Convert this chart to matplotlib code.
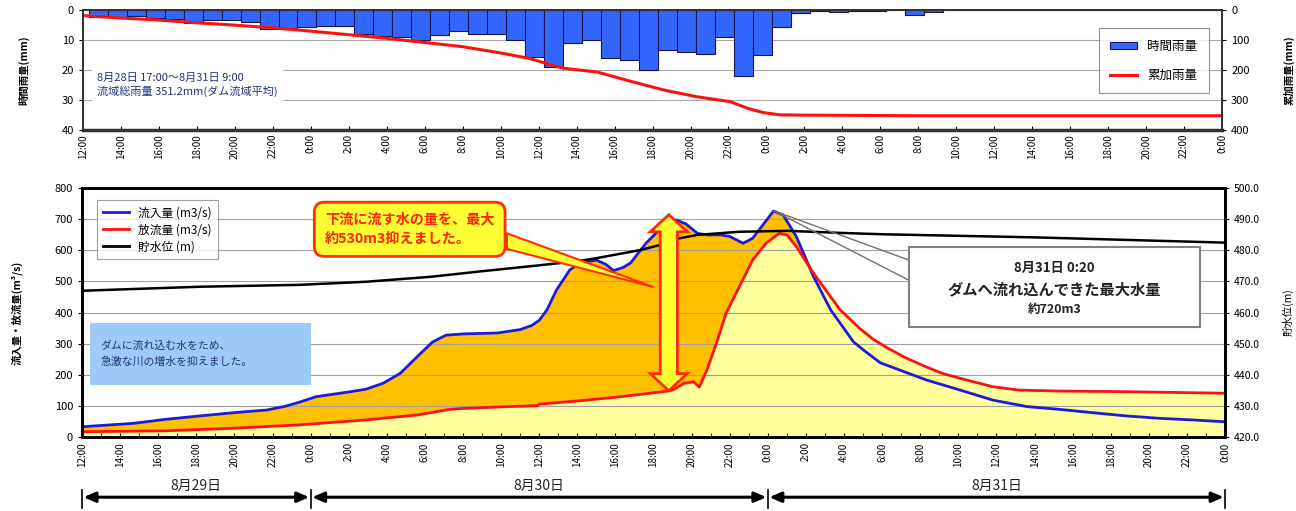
import numpy as np
import matplotlib
matplotlib.use("Agg")
import matplotlib.pyplot as plt
from matplotlib import patches, transforms
from matplotlib.lines import Line2D

plt.rcParams["font.family"] = ["Noto Sans CJK JP", "DejaVu Sans"]

# ---------------------------------------------------------------- data
# time axis: hours after 8/29 12:00 (0 .. 60 = 9/1 0:00)
RAIN_MM = [2.2, 2.2, 2.0, 2.5, 3.0, 4.4, 3.3, 3.3, 3.9, 6.3,
           6.0, 5.6, 5.2, 5.2, 8.1, 8.7, 9.1, 10.0, 8.3, 6.8,
           8.1, 8.1, 9.8, 15.6, 18.9, 11.1, 10.0, 16.0, 16.5, 20.1,
           13.3, 13.9, 14.7, 8.9, 22.0, 14.9, 5.7, 0.9, 0.3, 0.5,
           0.2, 0.3, 0.0, 1.7, 0.5, 0, 0, 0, 0, 0,
           0, 0, 0, 0, 0, 0, 0, 0, 0, 0]

CUM_HOURS = [0, 2, 4, 6, 8, 10, 12, 14, 16, 18, 20, 22, 23.5, 24.4, 25.3,
             27.1, 28.8, 30.6, 32.3, 34.1, 35.0, 35.8, 36.7, 38, 44, 60]
CUM_MM = [18, 26, 33, 42, 50, 59, 70, 82, 94, 108, 122, 143, 161, 178, 194,
          207, 237, 267, 289, 306, 328, 342, 350, 351, 353, 353]

IN_HOURS = [0, 2.7, 4.4, 6.2, 7.9, 9.7, 10.6, 11.4, 12.3, 13.2, 14.1, 14.9,
            15.8, 16.7, 17.6, 18.4, 19.1, 20.0, 21.8, 23.0, 23.6, 24.0, 24.4,
            24.9, 25.6, 26.1, 27.0, 27.5, 27.9, 28.4, 28.8, 29.6, 30.2, 30.7,
            31.2, 31.7, 32.3, 32.8, 33.5, 34.0, 34.7, 35.2, 35.8, 36.3, 36.8,
            37.5, 38.4, 39.3, 40.5, 41.0, 41.9, 42.6, 44.3, 46.1, 47.8, 49.6,
            51.3, 53.1, 54.8, 56.6, 58.3, 60.0]
IN_FLOW = [32, 43, 56, 67, 77, 86, 97, 111, 129, 137, 145, 153,
           172, 204, 258, 305, 327, 331, 334, 345, 358, 375, 408,
           472, 537, 558, 569, 555, 535, 545, 560, 623, 660, 690,
           698, 685, 655, 650, 650, 645, 623, 639, 687, 727, 714,
           644, 515, 408, 305, 280, 238, 222, 183, 150, 118, 97,
           88, 77, 67, 59, 54, 48]

OUT_HOURS = [0, 4.4, 7.9, 11.4, 14.9, 17.6, 19.3, 20.0, 22.0, 23.9, 24.0,
             26.0, 28.0, 30.5, 31.0, 31.6, 32.1, 32.4, 32.8, 33.3, 33.8,
             34.5, 35.2, 35.9, 36.6, 37.0, 37.5, 38.4, 39.8, 40.8, 41.5,
             42.3, 43.2, 44.3, 45.2, 46.1, 47.8, 49.2, 51.3, 54.8, 60.0]
OUT_FLOW = [16, 19, 27, 38, 54, 70, 88, 91, 96, 100, 105,
            115, 127, 145, 150, 172, 177, 160, 215, 301, 397,
            483, 569, 623, 655, 650, 612, 526, 408, 350, 315,
            285, 255, 225, 203, 188, 161, 150, 147, 145, 140]

LVL_HOURS = [0, 6.2, 11.4, 14.9, 18.3, 21, 24, 26.1, 27, 29.3, 30.5, 31,
             32.3, 34.5, 37, 40, 42, 50, 60]
LVL_M = [467.0, 468.3, 468.9, 469.9, 471.5, 473.3, 475.2, 476.6, 477.5,
         480.1, 482.0, 483.5, 485.0, 486.0, 486.3, 485.6, 485.2, 484.2, 482.5]

TICK_HOURS = list(range(0, 61, 2))
TICK_LABELS = [f"{(12 + h) % 24}:00" for h in TICK_HOURS]
DAY_EDGES = [0, 12, 36, 60]
DAY_LABELS = ["8月29日", "8月30日", "8月31日"]

PEAK_HOUR, PEAK_FLOW = 36.33, 727      # 8/31 0:20
ARROW_HOUR, ARROW_TOP = 30.8, 715      # ~530 m3/s held back

BLUE, RED = "#1c1cd8", "#ff1010"
ORANGE, LIGHT_YELLOW = "#ffc000", "#ffff9c"
NAVY = "#1f3275"

# ---------------------------------------------------------------- figure
fig = plt.figure(figsize=(12.96, 5.11), dpi=100)

# --- hourly / cumulative rainfall
ax_r = fig.add_axes([0.064, 0.746, 0.879, 0.234])
ax_c = ax_r.twinx()
hrs = np.arange(len(RAIN_MM))
ax_r.bar(hrs + 0.3, RAIN_MM, width=1.0, align="edge", color="#3366ff",
         edgecolor="#141450", lw=0.8, label="時間雨量")
ax_r.set_ylim(40, 0)
ax_r.set_yticks(range(0, 41, 10))
ax_r.set_axisbelow(True)
ax_r.yaxis.grid(True, color="#a8a8a8", lw=0.8)
ax_c.plot(CUM_HOURS, CUM_MM, color=RED, lw=2.2, label="累加雨量")
ax_c.set_ylim(400, 0)
ax_c.set_yticks(range(0, 401, 100))
ax_r.set_xlim(0, 60)
ax_r.set_xticks(TICK_HOURS)
ax_r.set_xticklabels(TICK_LABELS, rotation=90, fontsize=7)
ax_r.tick_params(axis="x", direction="in", length=3, pad=3)
ax_r.tick_params(axis="y", labelsize=8, length=3)
ax_c.tick_params(axis="y", labelsize=8, length=3)
for ax in (ax_r, ax_c):
    for s in ax.spines.values():
        s.set_color("#333333")
        s.set_linewidth(1.3)
ax_r.spines["bottom"].set_linewidth(2.5)
ax_r.set_ylabel("時間雨量(mm)", fontsize=7.5, fontweight="bold")
ax_r.yaxis.set_label_coords(-0.047, 0.5)
ax_c.set_ylabel("累加雨量(mm)", fontsize=7.5, fontweight="bold", rotation=90)
ax_c.yaxis.set_label_coords(1.054, 0.5)

ax_r.text(0.75, 25.0, "8月28日 17:00～8月31日 9:00\n流域総雨量 351.2mm(ダム流域平均)",
          fontsize=8, color=NAVY, va="center", ha="left", linespacing=1.35,
          bbox=dict(facecolor="white", edgecolor="none", pad=4))

h_r, l_r = ax_r.get_legend_handles_labels()
h_c, l_c = ax_c.get_legend_handles_labels()
leg = ax_c.legend(h_r + h_c, l_r + l_c, loc="upper left",
                  bbox_to_anchor=(0.886, 0.9), fontsize=9, frameon=True,
                  fancybox=False, edgecolor="#777777", labelspacing=1.3,
                  handlelength=2.2, handleheight=0.5, borderpad=0.9)
leg.get_frame().set_linewidth(0.8)

# --- inflow / outflow / reservoir level
ax_f = fig.add_axes([0.0633, 0.1454, 0.882, 0.4861])
ax_l = ax_f.twinx()

grid_h = np.union1d(IN_HOURS, OUT_HOURS)
inflow = np.interp(grid_h, IN_HOURS, IN_FLOW)
outflow = np.interp(grid_h, OUT_HOURS, OUT_FLOW)
ax_f.fill_between(grid_h, 0, np.maximum(inflow, outflow), color=LIGHT_YELLOW,
                  lw=0, zorder=0.8)
ax_f.fill_between(grid_h, outflow, inflow, where=inflow > outflow,
                  interpolate=True, color=ORANGE, lw=0, zorder=0.9)
ax_f.plot(IN_HOURS, IN_FLOW, color=BLUE, lw=2.0, label="流入量 (m3/s)")
ax_f.plot(OUT_HOURS, OUT_FLOW, color=RED, lw=2.0, label="放流量 (m3/s)")
ax_f.plot([], [], color="black", lw=2.0, label="貯水位 (m)")
ax_l.plot(LVL_HOURS, LVL_M, color="black", lw=1.8)

ax_f.set_xlim(0, 60)
ax_f.set_ylim(0, 800)
ax_f.set_yticks(range(0, 801, 100))
ax_f.yaxis.grid(True, color="#a0a0a0", lw=0.8)
ax_l.set_ylim(420, 500)
ax_l.set_yticks(np.arange(420, 501, 10))
ax_l.set_yticklabels([f"{v:.1f}" for v in np.arange(420, 501, 10)])
ax_f.set_xticks(TICK_HOURS)
ax_f.set_xticklabels(TICK_LABELS, rotation=90, fontsize=7)
ax_f.set_xticks(range(0, 61), minor=True)
ax_f.tick_params(axis="x", which="both", direction="in", length=3, pad=4)
ax_f.tick_params(axis="y", labelsize=8, length=3)
ax_l.tick_params(axis="y", labelsize=7.5, length=3)
for ax in (ax_f, ax_l):
    for s in ax.spines.values():
        s.set_color("black")
        s.set_linewidth(2)
ax_f.set_ylabel("流入量・放流量(m³/s)", fontsize=7.5, fontweight="bold")
ax_f.yaxis.set_label_coords(-0.052, 0.5)
ax_l.set_ylabel("貯水位(m)", fontsize=7.5, rotation=90)
ax_l.yaxis.set_label_coords(1.05, 0.5)

leg2 = ax_l.legend(*ax_f.get_legend_handles_labels(), loc="upper left",
                   bbox_to_anchor=(0.008, 0.975), fontsize=8.5, frameon=True,
                   fancybox=False, edgecolor="#888888", labelspacing=0.35,
                   handlelength=2.2, borderpad=0.5)
leg2.get_frame().set_linewidth(0.8)

fd = ax_f.transData  # annotations live on the top twin, in flow units

# light blue note
ax_l.add_patch(patches.Rectangle((0.42, 166), 11.6, 200, transform=fd,
                                 facecolor="#9ccbfa", edgecolor="none", zorder=5))
ax_l.text(0.95, 268, "ダムに流れ込む水をため、\n急激な川の増水を抑えました。",
          transform=fd, fontsize=7.8, color=NAVY, va="center", ha="left",
          linespacing=1.6, zorder=6)

# callout: held-back flow
ax_l.add_patch(patches.Polygon([(22.3, 655), (30.0, 482), (22.3, 605)],
                               closed=True, transform=fd, facecolor="#ffff33",
                               edgecolor="#ff3000", lw=1.5, zorder=5))
ax_l.text(12.75, 668, "下流に流す水の量を、最大\n約530m3抑えました。", transform=fd,
          fontsize=10.2, color="#ff2200", fontweight="bold", va="center",
          ha="left", linespacing=1.45, zorder=6,
          bbox=dict(boxstyle="round,pad=0.75,rounding_size=0.7",
                    facecolor="#ffff33", edgecolor="#ff3000", lw=2))

# double arrow between outflow and inflow
low = float(np.interp(ARROW_HOUR, OUT_HOURS, OUT_FLOW))
hw, sw, hl = 0.97, 0.45, 55
c = ARROW_HOUR
arrow_pts = [(c, ARROW_TOP), (c + hw, ARROW_TOP - hl), (c + sw, ARROW_TOP - hl),
             (c + sw, low + hl), (c + hw, low + hl), (c, low),
             (c - hw, low + hl), (c - sw, low + hl), (c - sw, ARROW_TOP - hl),
             (c - hw, ARROW_TOP - hl)]
ax_l.add_patch(patches.Polygon(arrow_pts, closed=True, transform=fd,
                               facecolor="#ffff33", edgecolor="#ff2a00",
                               lw=2, zorder=7))

# callout: peak inflow
for y_end in (569, 504):
    ax_l.add_line(Line2D([PEAK_HOUR, 43.4], [PEAK_FLOW, y_end], transform=fd,
                         color="#707070", lw=1.0, zorder=5))
ax_l.add_patch(patches.Rectangle((43.4, 353), 15.3, 257, transform=fd,
                                 facecolor="white", edgecolor="#808080",
                                 lw=1.5, zorder=6))
ax_l.text(51.05, 543, "8月31日 0:20", transform=fd, fontsize=9.5,
          fontweight="bold", ha="center", va="center", color="#222222", zorder=7)
ax_l.text(51.05, 474, "ダムへ流れ込んできた最大水量", transform=fd, fontsize=11,
          fontweight="bold", ha="center", va="center", color="#222222", zorder=7)
ax_l.text(51.05, 411, "約720m3", transform=fd, fontsize=9, fontweight="bold",
          ha="center", va="center", color="#222222", zorder=7)

# day spans under the axis
trans = transforms.blended_transform_factory(ax_f.transData, fig.transFigure)
for x0, x1, lab in zip(DAY_EDGES[:-1], DAY_EDGES[1:], DAY_LABELS):
    ax_f.annotate("", xy=(x1, 0.027), xytext=(x0, 0.027), xycoords=trans,
                  textcoords=trans, annotation_clip=False,
                  arrowprops=dict(arrowstyle="<|-|>,head_length=0.7,head_width=0.3",
                                  color="black", lw=2.2, shrinkA=1, shrinkB=1))
    ax_f.text((x0 + x1) / 2, 0.05, lab, transform=trans, ha="center",
              va="center", fontsize=10, color="#222222")
for x in DAY_EDGES:
    ax_f.plot([x, x], [0.006, 0.041], transform=trans, color="black", lw=1.2,
              clip_on=False)

fig.savefig("out.png", dpi=100)
